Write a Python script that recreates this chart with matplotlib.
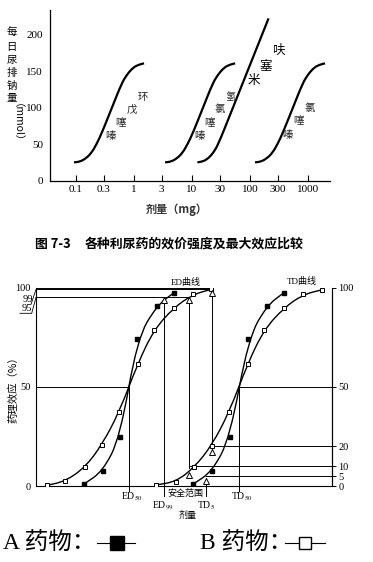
import matplotlib
matplotlib.use('Agg')
import matplotlib.pyplot as plt
from matplotlib.path import Path
from matplotlib.patches import PathPatch
from matplotlib.ticker import NullLocator

plt.rcParams['font.family'] = ['Liberation Serif', 'Noto Sans CJK SC']
plt.rcParams['mathtext.fontset'] = 'stix'

# ---------------- data: top chart (dose mg, urinary Na mmol/day) ----------------
top_xticks = [0.1, 0.3, 1, 3, 10, 30, 100, 300, 1000]
top_xticklabels = ['0.1', '0.3', '1', '3', '10', '30', '100', '300', '1000']
top_yticks = [0, 50, 100, 150, 200]

thiazide_response = [25.5, 26.4, 31.0, 38.7, 50.6, 65.2, 99.3, 133.5, 144.9, 153.1, 158.1, 160.9]
cyclopenthiazide_dose = [0.0925, 0.117, 0.149, 0.186, 0.227, 0.277, 0.412, 0.612, 0.748, 0.912, 1.11, 1.49]
hydrochlorothiazide_dose = [3.43, 4.34, 5.53, 6.90, 8.42, 10.3, 15.3, 22.7, 27.8, 33.8, 41.2, 55.3]
chlorothiazide_dose = [122, 154, 196, 245, 299, 365, 543, 807, 986, 1202, 1463, 1964]
furosemide_dose = [12.4, 15.7, 19.1, 23.4, 28.5, 45.2, 209]
furosemide_response = [25.5, 26.9, 31.0, 38.7, 50.6, 90.2, 222.4]

# ---------------- data: bottom chart (arbitrary dose units, effect %) ----------------
ed_a_dose = [48, 66.7, 84, 101.3, 120.7, 137.7]
a_effect = [1, 7.4, 24.5, 74.2, 90.8, 97.3]
td_a_dose = [157.3, 176.3, 194, 212.3, 230.7, 247.7]
ed_b_dose = [10.7, 29.3, 49, 65.7, 83.3, 101.7, 118, 137.7, 157, 174.7]
b_effect = [0.3, 2.4, 9.4, 20.6, 37.3, 61.7, 78.7, 89.8, 96.5, 99]
td_b_dose = [119.7, 140, 158.3, 175.7, 193.3, 211.7, 228, 248, 267.3, 285.7]
td_b_effect = [0.5, 2.2, 9.4, 20.4, 37.3, 61.7, 78.7, 89.8, 96.5, 98.8]

ed50_dose = 93
td50_dose = 203.3
marker_dose = [128, 153, 175.7, 153, 175.7, 170]
marker_effect = [93.5, 93.5, 97.3, 5.5, 17, 2.5]

vline_dose = [ed50_dose, td50_dose, 128, 153, 175.7, 170]
vline_top = [50, 50, 95, 95, 99, 4]
vline_bottom = [-2.5, -2.5, -5, 9, 18, -5]

hline_level = [100, 99, 95, 50, 50, 20, 10, 5]
hline_start = [0, 0, 0, 0, td50_dose, 175.7, 153, 170]
hline_end = [175.7, 175.7, 153, ed50_dose, 296, 296, 296, 296]

left_ticks = [0, 50, 100]
right_ticks = [0, 5, 10, 20, 50, 100]

W, H = 373, 562
fig = plt.figure(figsize=(W / 100, H / 100), dpi=100)


def fx(px):
    return px / W


def fy(py):
    return 1 - py / H


def smooth(ax, xs, ys, logx=False, **kw):
    pts = list(zip(xs, ys))

    def mid(p, q):
        if logx:
            mx = (p[0] * q[0]) ** 0.5
        else:
            mx = (p[0] + q[0]) / 2
        return (mx, (p[1] + q[1]) / 2)

    verts = [pts[0], mid(pts[0], pts[1])]
    codes = [Path.MOVETO, Path.LINETO]
    for i in range(1, len(pts) - 1):
        verts += [pts[i], mid(pts[i], pts[i + 1])]
        codes += [Path.CURVE3, Path.CURVE3]
    verts.append(pts[-1])
    codes.append(Path.LINETO)
    patch = PathPatch(Path(verts, codes), transform=ax.transData, fill=False, **kw)
    ax.add_patch(patch)


# ================= top chart =================
ax1 = fig.add_axes([fx(50), fy(181), (330 - 50) / W, (181 - 10) / H])
ax1.set_xscale('log')
ax1.set_xlim(10 ** -1.448, 10 ** 3.379)
ax1.set_ylim(0, 233.8)
ax1.xaxis.set_minor_locator(NullLocator())
ax1.set_xticks(top_xticks)
ax1.set_xticklabels(top_xticklabels)
ax1.set_yticks(top_yticks)
ax1.tick_params(axis='x', direction='in', length=4, width=0.8, labelsize=8, pad=3)
ax1.tick_params(axis='y', length=0, labelsize=8, pad=5)
for s in ['top', 'right']:
    ax1.spines[s].set_visible(False)
for s in ['left', 'bottom']:
    ax1.spines[s].set_linewidth(0.9)

for d in [cyclopenthiazide_dose, hydrochlorothiazide_dose, chlorothiazide_dose]:
    smooth(ax1, d, thiazide_response, logx=True, lw=1.6, color='black')
smooth(ax1, furosemide_dose, furosemide_response, logx=True, lw=1.6, color='black')

cjk = ['Noto Sans CJK SC']
labels_top = [
    ('环', 142.7, 96.7), ('戊', 131.7, 109.3), ('噻', 120.7, 122.7), ('嗪', 110, 136),
    ('氢', 231, 96.7), ('氯', 220, 109.3), ('噻', 209.3, 122.7), ('嗪', 199, 136),
    ('氯', 309.3, 108.3), ('噻', 298.3, 120.7), ('嗪', 287.3, 135),
]
for ch, px, py in labels_top:
    fig.text(fx(px), fy(py), ch, family=cjk, fontsize=7.5, ha='center', va='center', color='#222')
for ch, px, py in [('呋', 278.3, 50), ('塞', 265.7, 66.7), ('米', 254, 80.7)]:
    fig.text(fx(px), fy(py), ch, family=cjk, fontsize=9, ha='center', va='center')

for ch, zy in zip('每日尿排钠量', [95, 140, 180, 218, 258, 295]):
    fig.text(fx(11.7), fy(zy / 3), ch, family=cjk, fontsize=7.5, ha='center', va='center')
fig.text(fx(11.7), fy(128), '（mmol）', family=cjk, fontsize=7.5, rotation=-90,
         ha='center', va='center')
fig.text(fx(177), fy(209), '剂量（mg）', family=cjk, fontsize=8, weight='bold',
         ha='center', va='center', color='#333')

fig.text(fx(35), fy(244), '图 7-3', family=cjk, fontsize=9.3, weight='bold', ha='left', va='center')
fig.text(fx(85), fy(244), '各种利尿药的效价强度及最大效应比较', family=cjk, fontsize=9.3,
         weight='bold', ha='left', va='center')

# ================= bottom chart =================
ax2 = fig.add_axes([fx(36), fy(486), 296 / W, (486 - 287.5) / H])
ax2.set_xlim(0, 296)
ax2.set_ylim(0, 100)
ax2.set_xticks([])
ax2.set_yticks(left_ticks)
ax2.tick_params(axis='y', length=0, labelsize=7.5, pad=4)
ax2.spines['top'].set_visible(False)
for s in ['left', 'bottom', 'right']:
    ax2.spines[s].set_linewidth(0.8)

axr = ax2.twinx()
axr.set_ylim(0, 100)
axr.set_yticks(right_ticks)
axr.tick_params(axis='y', direction='out', length=3, width=0.7, labelsize=7.5, pad=1.5)
for s in ['top', 'left', 'bottom']:
    axr.spines[s].set_visible(False)
axr.spines['right'].set_linewidth(0.8)

for lvl, x0, x1 in zip(hline_level, hline_start, hline_end):
    ax2.plot([x0, x1], [lvl, lvl], color='black', lw=0.7, clip_on=False)
for x, t, b in zip(vline_dose, vline_top, vline_bottom):
    ax2.plot([x, x], [b, t], color='black', lw=0.7, clip_on=False)

for xs, ys in [(ed_a_dose, a_effect), (td_a_dose, a_effect),
               (ed_b_dose, b_effect), (td_b_dose, td_b_effect)]:
    smooth(ax2, xs, ys, lw=1.0, color='black')

ax2.plot(ed_a_dose, a_effect, 's', color='black', ms=3.5, zorder=5)
ax2.plot(td_a_dose, a_effect, 's', color='black', ms=3.5, zorder=5)
ax2.plot(ed_b_dose, b_effect, 's', mfc='white', mec='black', mew=0.7, ms=3, zorder=5)
ax2.plot(td_b_dose, td_b_effect, 's', mfc='white', mec='black', mew=0.7, ms=3, zorder=5)
ax2.plot(marker_dose, marker_effect, '^', mfc='white', mec='black', mew=0.7, ms=4, zorder=5,
         clip_on=False)

# left special labels 99 / 95
ax2.text(-2.5, 94, '99', ha='right', va='center', fontsize=7.5, clip_on=False)
ax2.plot([-5, 0], [91.5, 99], color='black', lw=0.6, clip_on=False)
ax2.text(-4.3, 89.5, '95', ha='right', va='center', fontsize=7.5, clip_on=False)
ax2.plot([-16, -4.3, 0], [87, 87, 95], color='black', lw=0.6, clip_on=False)

ax2.text(150, 102.5, 'ED曲线', ha='center', va='center', fontsize=6.5)
ax2.text(266, 103, 'TD曲线', ha='center', va='center', fontsize=6.5)

ax2.text(96, -5.5, r'ED$_{50}$', ha='center', va='center', fontsize=7)
ax2.text(205.7, -5.5, r'TD$_{50}$', ha='center', va='center', fontsize=7)
ax2.text(127, -9.8, r'ED$_{99}$', ha='center', va='center', fontsize=7)
ax2.text(170, -9.8, r'TD$_{5}$', ha='center', va='center', fontsize=7)
ax2.annotate('', xy=(128, -3.5), xytext=(170, -3.5),
             arrowprops=dict(arrowstyle='<->', lw=0.6, mutation_scale=5), annotation_clip=False)
ax2.text(149, -3.5, '安全范围', ha='center', va='center', fontsize=6.5,
         bbox=dict(facecolor='white', edgecolor='none', pad=0.3), clip_on=False)
ax2.text(152, -14.6, '剂量', ha='center', va='center', fontsize=6.5, family=cjk)
ax2.set_ylabel('药理效应（%）', family=cjk, fontsize=7.5)
ax2.yaxis.set_label_coords(-0.058, 0.5)

# ================= legend =================
fig.text(fx(3), fy(543), 'A 药物：', fontsize=17, ha='left', va='center')
fig.add_artist(plt.Line2D([fx(97), fx(135)], [fy(543), fy(543)], color='black', lw=0.8))
fig.add_artist(plt.Line2D([fx(116.5)], [fy(543)], marker='s', ms=10, color='black'))
fig.text(fx(200), fy(543), 'B 药物：', fontsize=17, ha='left', va='center')
fig.add_artist(plt.Line2D([fx(285), fx(325)], [fy(543), fy(543)], color='black', lw=0.8))
fig.add_artist(plt.Line2D([fx(305)], [fy(543)], marker='s', ms=8, mfc='white', mec='black',
                          mew=1.0, color='black'))

fig.savefig('out.png', dpi=100)
